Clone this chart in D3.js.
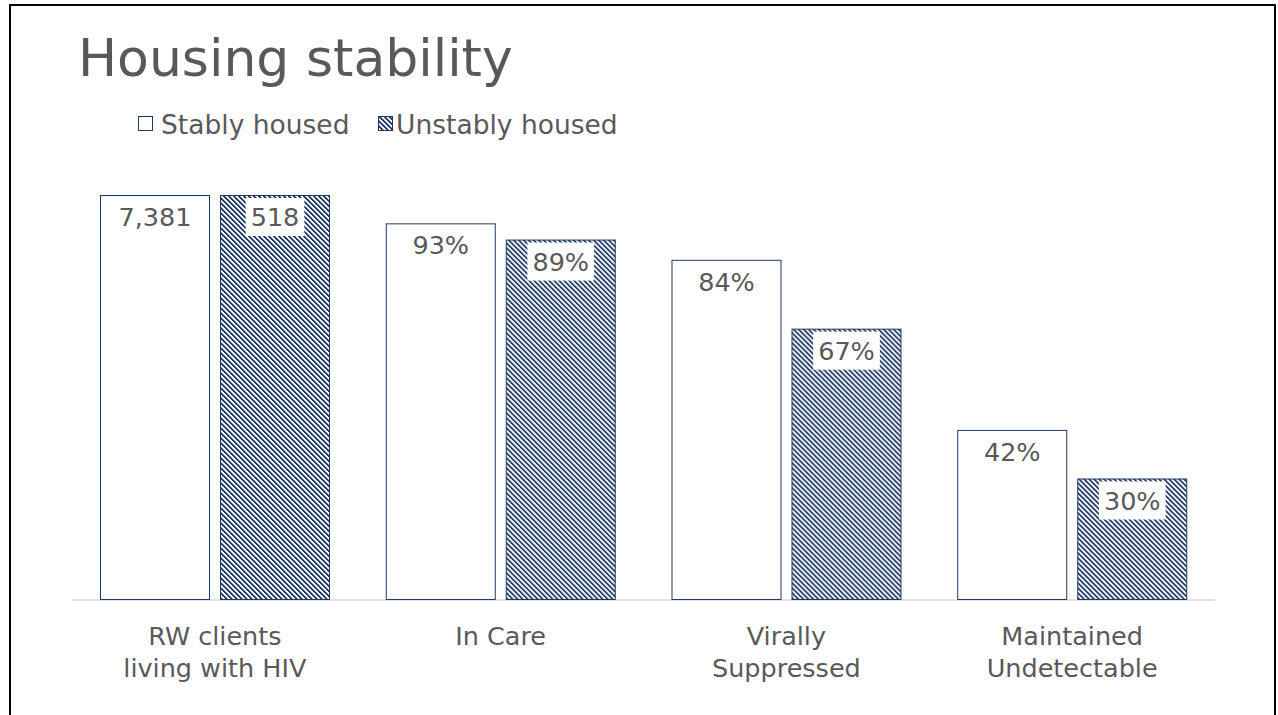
<!DOCTYPE html>
<html>
<head>
<meta charset="utf-8">
<script src="https://cdn.jsdelivr.net/npm/d3@7"></script>
<style>
  html, body { margin: 0; padding: 0; background: #fff; }
  svg { display: block; font-family: "DejaVu Sans", Verdana, sans-serif; }
</style>
</head>
<body>
<div id="chart"></div>
<script>
const categories = [
    ["RW clients", "living with HIV"],
    ["In Care"],
    ["Virally", "Suppressed"],
    ["Maintained", "Undetectable"]
];
const seriesNames = ["Stably housed", "Unstably housed"];
// bar heights in percent (first group shown at full height)
const stablyValues = [100, 93, 84, 42];
const unstablyValues = [100, 89, 67, 30];
const stablyLabels = ["7,381", "93%", "84%", "42%"];
const unstablyLabels = ["518", "89%", "67%", "30%"];

const width = 1278, height = 715;
const navy = "#1f3864";
const textColor = "#595959";

const svg = d3.select("#chart").append("svg")
    .attr("width", width)
    .attr("height", height);

// hatch pattern (wide downward diagonal), 5px tile drawn pixel by pixel
const defs = svg.append("defs");
const tile = 5;
const pat = defs.append("pattern")
    .attr("id", "hatch")
    .attr("patternUnits", "userSpaceOnUse")
    .attr("width", tile)
    .attr("height", tile);
pat.append("rect").attr("width", tile).attr("height", tile).attr("fill", "#fff");
d3.range(tile).forEach(r => {
    [[0, 1], [1, 1], [2, 0.45]].forEach(([dx, op]) => {
        pat.append("rect")
            .attr("x", (r + dx) % tile).attr("y", r)
            .attr("width", 1).attr("height", 1)
            .attr("fill", navy)
            .attr("fill-opacity", op)
            .attr("shape-rendering", "crispEdges");
    });
});

// frame
svg.append("rect")
    .attr("x", 10).attr("y", 5)
    .attr("width", 1265).attr("height", 740)
    .attr("fill", "none")
    .attr("stroke", "#000")
    .attr("stroke-width", 2);

// title
svg.append("text")
    .attr("x", 78).attr("y", 76)
    .attr("font-size", 52)
    .attr("fill", textColor)
    .text("Housing stability");

const keys = categories.map(c => c.join(" "));
const x0 = d3.scaleBand().domain(keys).range([72, 1215]);
const x1 = d3.scaleBand().domain(seriesNames).range([28, 258]).paddingInner(10 / 120);
const y = d3.scaleLinear().domain([0, 100]).range([600, 195]);

const rows = keys.map((k, i) => ({
    key: k,
    lines: categories[i],
    bars: [
        { s: seriesNames[0], v: stablyValues[i], label: stablyLabels[i] },
        { s: seriesNames[1], v: unstablyValues[i], label: unstablyLabels[i] }
    ]
}));

// axis line
svg.append("line")
    .attr("x1", x0.range()[0]).attr("x2", x0.range()[1])
    .attr("y1", y(0)).attr("y2", y(0))
    .attr("stroke", "#d9d9d9")
    .attr("stroke-width", 1.5);

const groups = svg.selectAll("g.grp")
    .data(rows)
    .enter().append("g")
    .attr("class", "grp")
    .attr("transform", d => `translate(${x0(d.key)},0)`);

groups.selectAll("rect.bar")
    .data(d => d.bars)
    .enter().append("rect")
    .attr("class", "bar")
    .attr("x", d => x1(d.s) + 0.5)
    .attr("y", d => y(d.v) + 0.5)
    .attr("width", x1.bandwidth() - 1)
    .attr("height", d => y(0) - y(d.v) - 1)
    .attr("fill", d => d.s === seriesNames[0] ? "#fff" : "url(#hatch)")
    .attr("stroke", navy)
    .attr("stroke-width", 1);

// value labels
const lab = groups.selectAll("g.lab")
    .data(d => d.bars)
    .enter().append("g")
    .attr("class", "lab");

lab.append("text")
    .attr("x", d => x1(d.s) + x1.bandwidth() / 2)
    .attr("y", d => y(d.v) + 31)
    .attr("text-anchor", "middle")
    .attr("font-size", 25.5)
    .attr("fill", textColor)
    .text(d => d.label);

lab.each(function(d) {
    if (d.s !== seriesNames[1]) return;
    const t = d3.select(this).select("text");
    const bb = t.node().getBBox();
    d3.select(this).insert("rect", "text")
        .attr("x", bb.x - 5)
        .attr("y", y(d.v) + 3)
        .attr("width", bb.width + 10)
        .attr("height", 38)
        .attr("fill", "#fff");
});

// category labels
groups.append("text")
    .attr("text-anchor", "middle")
    .attr("font-size", 25.5)
    .attr("fill", textColor)
    .selectAll("tspan")
    .data(d => d.lines)
    .enter().append("tspan")
    .attr("x", x0.bandwidth() / 2)
    .attr("y", (d, i) => 645 + i * 32)
    .text(d => d);

// legend
const legend = svg.append("g").attr("transform", "translate(138,116)");
const legendItems = [
    { name: seriesNames[0], fill: "#fff", x: 0, tx: 23 },
    { name: seriesNames[1], fill: "url(#hatch)", x: 240, tx: 258 }
];
legendItems.forEach(it => {
    legend.append("rect")
        .attr("x", it.x + 0.5).attr("y", 0.5)
        .attr("width", 14).attr("height", 14)
        .attr("fill", it.fill)
        .attr("stroke", navy)
        .attr("stroke-width", 1);
    legend.append("text")
        .attr("x", it.tx).attr("y", 18)
        .attr("font-size", 26.5)
        .attr("fill", textColor)
        .text(it.name);
});
</script>
</body>
</html>
